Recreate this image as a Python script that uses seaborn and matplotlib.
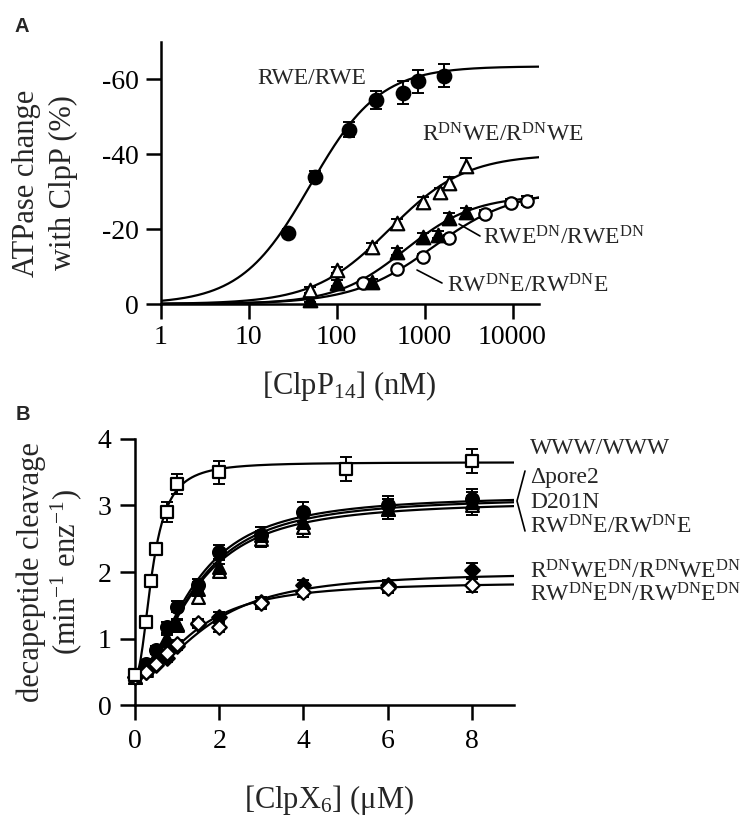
import numpy as np
import pandas as pd
import matplotlib
matplotlib.use("Agg")
import matplotlib.pyplot as plt
from matplotlib.lines import Line2D
import seaborn as sns

# ---------------- Panel A data: ATPase change with ClpP ----------------
clpp_rwe = [28, 56, 137, 277, 560, 830, 1650]
atp_rwe = [-19.0, -34.0, -46.5, -54.5, -56.5, -59.5, -61.0]
err_rwe = [1.0, 1.5, 2.0, 2.5, 3.0, 3.0, 3.0]

clpp_rdnwe = [50, 100, 250, 480, 950, 1480, 1900, 2950]
atp_rdnwe = [-3.7, -9.1, -15.3, -21.7, -27.3, -29.8, -32.4, -37.0]
err_rdnwe = [0.8, 0.8, 1.0, 1.0, 1.2, 1.2, 1.5, 2.0]

clpp_rwedn = [50, 100, 250, 480, 950, 1400, 1900, 2950]
atp_rwedn = [-1.0, -5.6, -5.9, -14.0, -18.0, -18.5, -23.0, -24.5]
err_rwedn = [0.5, 0.8, 0.8, 1.0, 1.0, 1.0, 1.2, 1.2]

clpp_rwdne = [200, 480, 950, 1900, 4800, 9700, 14500]
atp_rwdne = [-5.6, -9.4, -12.6, -17.5, -24.1, -27.1, -27.6]
err_rwdne = [0.5, 0.6, 0.8, 1.0, 1.0, 1.0, 1.2]

# Hill-fit parameters: (plateau, K in nM, n)
fit_rwe = (-63.5, 50.0, 1.1)
fit_rdnwe = (-40.0, 400.0, 1.0)
fit_rwedn = (-29.0, 600.0, 1.1)
fit_rwdne = (-30.5, 1250.0, 0.95)

xticks_a = [1, 10, 100, 1000, 10000]
xticklabels_a = ["1", "10", "100", "1000", "10000"]
yticks_a = [0, -20, -40, -60]

# ---------------- Panel B data: decapeptide cleavage ----------------
conc_www = [0, 0.25, 0.375, 0.5, 0.75, 1, 2, 5, 8]
rate_www = [0.45, 1.25, 1.87, 2.35, 2.9, 3.33, 3.5, 3.55, 3.67]
err_www = [0.05, 0.05, 0.08, 0.08, 0.15, 0.15, 0.17, 0.18, 0.18]

conc_b = [0, 0.25, 0.5, 0.75, 1, 1.5, 2, 3, 4, 6, 8]
rate_pore2 = [0.45, 0.62, 0.82, 1.17, 1.48, 1.80, 2.30, 2.55, 2.90, 3.00, 3.10]
err_pore2 = [0.04, 0.05, 0.06, 0.08, 0.08, 0.10, 0.10, 0.12, 0.15, 0.15, 0.15]
rate_d201n = [0.42, 0.52, 0.72, 1.00, 1.22, 1.75, 2.08, 2.55, 2.75, 2.95, 3.05]
err_d201n = [0.04, 0.05, 0.06, 0.08, 0.08, 0.10, 0.10, 0.12, 0.15, 0.15, 0.15]
rate_rwdne = [0.42, 0.55, 0.75, 0.98, 1.20, 1.62, 2.02, 2.50, 2.68, 2.95, 3.00]
err_rwdne_b = [0.04, 0.05, 0.06, 0.08, 0.08, 0.10, 0.10, 0.12, 0.15, 0.15, 0.15]
rate_rdnwedn = [0.42, 0.50, 0.60, 0.70, 0.88, 1.22, 1.32, 1.55, 1.80, 1.80, 2.03]
err_rdnwedn = [0.03, 0.04, 0.05, 0.05, 0.06, 0.06, 0.08, 0.08, 0.08, 0.08, 0.10]
rate_rwdnedn = [0.42, 0.50, 0.62, 0.78, 0.92, 1.23, 1.18, 1.53, 1.70, 1.76, 1.80]
err_rwdnedn = [0.03, 0.04, 0.05, 0.05, 0.06, 0.06, 0.08, 0.08, 0.08, 0.08, 0.10]

# Hill-fit parameters (baseline, plateau, K in uM, n)
fitb_www = (0.45, 3.65, 0.42, 2.2)
fitb_pore2 = (0.45, 3.16, 1.40, 1.9)
fitb_d201n = (0.45, 3.13, 1.45, 1.9)
fitb_rwdne = (0.45, 3.07, 1.45, 1.9)
fitb_rdnwedn = (0.45, 2.00, 1.80, 2.0)
fitb_rwdnedn = (0.45, 1.85, 1.50, 2.0)

xticks_b = [0, 2, 4, 6, 8]
yticks_b = [0, 1, 2, 3, 4]

# ---------------- style ----------------
sns.set_theme(style="ticks")
plt.rcParams["font.family"] = ["Liberation Serif", "DejaVu Serif"]
plt.rcParams["mathtext.fontset"] = "custom"
plt.rcParams["mathtext.rm"] = "Liberation Serif"
plt.rcParams["mathtext.it"] = "Liberation Serif:italic"
plt.rcParams["axes.unicode_minus"] = False

W, H = 748, 822
fig = plt.figure(figsize=(W / 100, H / 100), dpi=100)
fig.patch.set_facecolor("white")


def fx(px):
    return px / W


def fy(py):
    return 1 - py / H


LW_AX = 1.8
LW_CURVE = 1.6
TICK_FS = 20
LAB_FS = 22
ANN_FS = 17


def style_axes(ax):
    for s in ["top", "right"]:
        ax.spines[s].set_visible(False)
    for s in ["left", "bottom"]:
        ax.spines[s].set_linewidth(LW_AX)
        ax.spines[s].set_color("black")
    ax.tick_params(axis="both", which="major", length=9, width=LW_AX,
                   labelsize=TICK_FS, color="black", labelcolor="black", direction="out")
    ax.set_facecolor("white")
    ax.grid(False)


def hill_a(x, p):
    vmax, k, n = p
    return vmax * x ** n / (k ** n + x ** n)


def hill_b(x, p):
    v0, vmax, k, n = p
    return v0 + (vmax - v0) * x ** n / (k ** n + x ** n)


def pts(ax, x, y, e, marker, filled, size):
    ax.errorbar(x, y, yerr=e, fmt="none", ecolor="black", elinewidth=1.4,
                capsize=4.5, capthick=1.4, zorder=3, clip_on=False)
    sns.scatterplot(x=x, y=y, ax=ax, marker=marker, s=size,
                    facecolor="black" if filled else "white",
                    edgecolor="black", linewidth=1.6, zorder=4, clip_on=False,
                    legend=False)


# ---------------- Panel A ----------------
axA = fig.add_axes([fx(161), fy(304), fx(539) - fx(161), fy(42) - fy(304)])
axA.set_xscale("log")
xs_a = np.logspace(0, np.log10(2e4), 400)
for p in [fit_rwe, fit_rdnwe, fit_rwedn, fit_rwdne]:
    sns.lineplot(x=xs_a, y=hill_a(xs_a, p), ax=axA, color="black",
                 linewidth=LW_CURVE, estimator=None, sort=False, zorder=2)

pts(axA, clpp_rwdne, atp_rwdne, err_rwdne, "o", False, 80)
pts(axA, clpp_rwedn, atp_rwedn, err_rwedn, "^", True, 95)
pts(axA, clpp_rdnwe, atp_rdnwe, err_rdnwe, "^", False, 95)
pts(axA, clpp_rwe, atp_rwe, err_rwe, "o", True, 95)

axA.set_xlim(1, 2e4)
axA.set_ylim(0, -70)
axA.set_xticks(xticks_a)
axA.set_xticklabels(xticklabels_a)
axA.set_yticks(yticks_a)
axA.set_yticklabels([str(v) for v in yticks_a])
style_axes(axA)
axA.tick_params(axis="x", which="minor", length=7, width=LW_AX, color="black")
axA.tick_params(axis="x", which="major", length=11, pad=4)
axA.tick_params(axis="y", which="major", length=11, pad=5)
axA.set_xlabel("")
axA.set_ylabel("")

fig.text(fx(349), fy(386), r"[ClpP$_{14}$] (nM)", fontsize=LAB_FS,
         ha="center", va="center")
fig.text(fx(27), fy(183), "ATPase change", fontsize=LAB_FS, rotation=90,
         ha="center", va="center")
fig.text(fx(63), fy(183), "with ClpP (%)", fontsize=LAB_FS, rotation=90,
         ha="center", va="center")

fig.text(fx(257), fy(78), "RWE/RWE", fontsize=ANN_FS, ha="left", va="center")
fig.text(fx(422), fy(135), r"R$^{\mathrm{DN}}$WE/R$^{\mathrm{DN}}$WE",
         fontsize=ANN_FS, ha="left", va="center")
fig.text(fx(483), fy(238), r"RWE$^{\mathrm{DN}}$/RWE$^{\mathrm{DN}}$",
         fontsize=ANN_FS, ha="left", va="center")
fig.text(fx(447), fy(286), r"RW$^{\mathrm{DN}}$E/RW$^{\mathrm{DN}}$E",
         fontsize=ANN_FS, ha="left", va="center")
fig.add_artist(Line2D([fx(459), fx(480)], [fy(224), fy(236)],
                      transform=fig.transFigure, color="black", lw=1.2))
fig.add_artist(Line2D([fx(417), fx(442)], [fy(270), fy(283)],
                      transform=fig.transFigure, color="black", lw=1.2))

fig.text(fx(22), fy(27), "A", fontsize=14.5, fontweight="bold",
         family="Liberation Sans", ha="center", va="center")

# ---------------- Panel B ----------------
axB = fig.add_axes([fx(135), fy(705), fx(514) - fx(135), fy(439) - fy(705)])
xs_b = np.linspace(0, 9, 400)
for p in [fitb_www, fitb_pore2, fitb_d201n, fitb_rwdne, fitb_rdnwedn, fitb_rwdnedn]:
    sns.lineplot(x=xs_b, y=hill_b(xs_b, p), ax=axB, color="black",
                 linewidth=LW_CURVE, estimator=None, sort=False, zorder=2)

pts(axB, conc_b, rate_rwdne, err_rwdne_b, "^", False, 85)
pts(axB, conc_b, rate_d201n, err_d201n, "^", True, 85)
pts(axB, conc_b, rate_pore2, err_pore2, "o", True, 85)
pts(axB, conc_b, rate_rdnwedn, err_rdnwedn, "D", True, 55)
pts(axB, conc_b, rate_rwdnedn, err_rwdnedn, "D", False, 55)
pts(axB, conc_www, rate_www, err_www, "s", False, 85)

axB.set_xlim(0, 9)
axB.set_ylim(0, 4)
axB.set_xticks(xticks_b)
axB.set_yticks(yticks_b)
style_axes(axB)
axB.tick_params(axis="both", which="major", length=11, pad=6)
axB.set_xlabel("")
axB.set_ylabel("")

fig.text(fx(329), fy(800), r"[ClpX$_{6}$] (μM)", fontsize=LAB_FS,
         ha="center", va="center")
fig.text(fx(31), fy(572), "decapeptide cleavage", fontsize=LAB_FS, rotation=90,
         ha="center", va="center")
fig.text(fx(66), fy(572), r"(min$^{-1}$ enz$^{-1}$)", fontsize=LAB_FS, rotation=90,
         ha="center", va="center")

lab_x = fx(530)
fig.text(lab_x, fy(448), "WWW/WWW", fontsize=ANN_FS, ha="left", va="center")
fig.text(lab_x, fy(477), "Δpore2", fontsize=ANN_FS, ha="left", va="center")
fig.text(lab_x, fy(502), "D201N", fontsize=ANN_FS, ha="left", va="center")
fig.text(lab_x, fy(527), r"RW$^{\mathrm{DN}}$E/RW$^{\mathrm{DN}}$E",
         fontsize=ANN_FS, ha="left", va="center")
fig.text(lab_x, fy(572), r"R$^{\mathrm{DN}}$WE$^{\mathrm{DN}}$/R$^{\mathrm{DN}}$WE$^{\mathrm{DN}}$",
         fontsize=ANN_FS, ha="left", va="center")
fig.text(lab_x, fy(595), r"RW$^{\mathrm{DN}}$E$^{\mathrm{DN}}$/RW$^{\mathrm{DN}}$E$^{\mathrm{DN}}$",
         fontsize=ANN_FS, ha="left", va="center")
fig.add_artist(Line2D([fx(525), fx(517), fx(525)], [fy(471), fy(501), fy(531)],
                      transform=fig.transFigure, color="black", lw=1.2))

fig.text(fx(23), fy(414), "B", fontsize=14.5, fontweight="bold",
         family="Liberation Sans", ha="center", va="center")

fig.savefig("out.png", dpi=100, facecolor="white")
